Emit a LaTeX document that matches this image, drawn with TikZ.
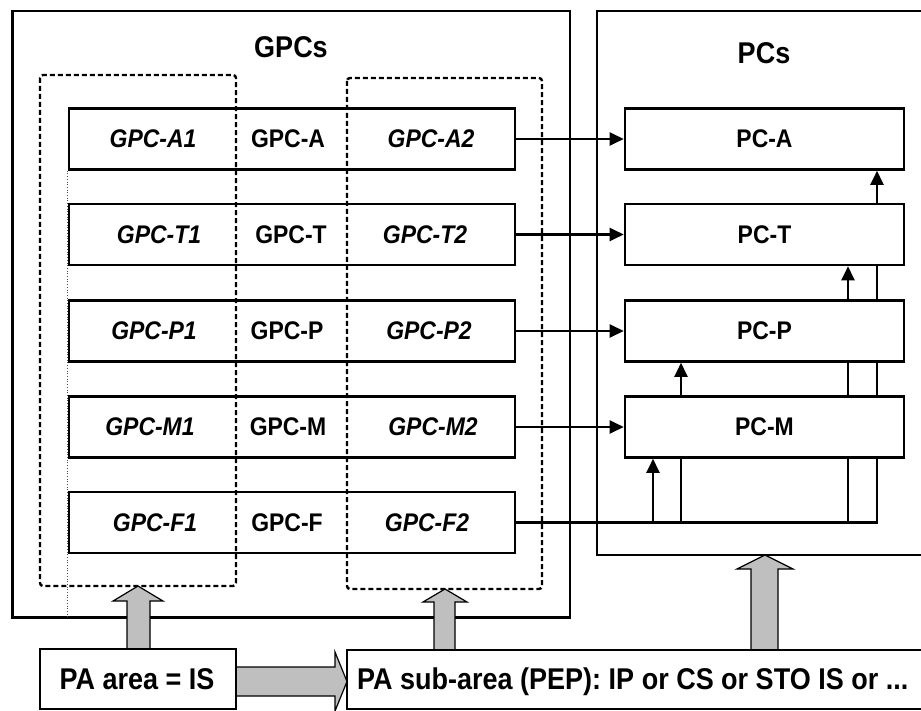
\documentclass[tikz,border=0pt]{standalone}
\usepackage{fontspec}
\setmainfont{Liberation Sans}[FakeStretch=0.9]
\usetikzlibrary{arrows.meta,calc}
\begin{document}
\begin{tikzpicture}[x=1pt,y=-1pt,
  rowbox/.style={draw,line width=2.6pt,minimum width=446pt,minimum height=61pt,inner sep=0pt},
  pcbox/.style={draw,line width=2.6pt,minimum width=279pt,minimum height=61pt,inner sep=0pt,font=\fontsize{25.5}{28}\selectfont\bfseries},
  lab/.style={font=\fontsize{25.5}{28}\selectfont\bfseries\itshape,inner sep=0pt},
  mlab/.style={font=\fontsize{25.5}{28}\selectfont\bfseries,inner sep=0pt},
  big/.style={font=\fontsize{30}{34}\selectfont\bfseries,inner sep=0pt},
  frame/.style={draw,line width=2.6pt},
  dashbox/.style={draw,line width=2.4pt,dash pattern=on 5pt off 3pt,rounded corners=3pt},
  conn/.style={line width=2.3pt},
  arr/.style={conn,-{Triangle[length=14pt,width=13pt]}},
  blk/.style={draw,line width=1.2pt,fill=black!25,line join=miter}]
\clip (0,0) rectangle (921,711);
\fill[white] (0,0) rectangle (921,711);

% frames
\draw[frame] (12.6,11) rectangle (570,617.5);
\draw[frame] (597,11) rectangle (940,555);
\node[big,anchor=base] (tG) at (291,58) {GPCs};
\node[big,anchor=base] (tP) at (764,64) {PCs};

% GPC rows
\node[rowbox] (gA) at (292,139) {};
\node[rowbox] (gT) at (292,234.5) {};
\node[rowbox] (gP) at (292,331) {};
\node[rowbox] (gM) at (292,427) {};
\node[rowbox] (gF) at (292,522.5) {};

% dotted guide
\draw[line width=0.7pt,dotted,black!70] (gA.south west) -- (gA.south west |- 0,617.5);

% dashed groups
\draw[dashbox] (40,75) rectangle (236,586);
\draw[dashbox] (347,78) rectangle (542,589);

% row labels
\node[lab] (a1) at (153,139) {GPC-A1};
\node[mlab] (a0) at (288,139) {GPC-A};
\node[lab] (a2) at (431,139) {GPC-A2};
\node[lab] (t1) at (159,234.5) {GPC-T1};
\node[mlab] (t0) at (291,234.5) {GPC-T};
\node[lab] (t2) at (425,234.5) {GPC-T2};
\node[lab] (p1) at (154,331) {GPC-P1};
\node[mlab] (p0) at (287,331) {GPC-P};
\node[lab] (p2) at (429,331) {GPC-P2};
\node[lab] (m1) at (150,427) {GPC-M1};
\node[mlab] (m0) at (288,427) {GPC-M};
\node[lab] (m2) at (433,427) {GPC-M2};
\node[lab] (f1) at (155,522.5) {GPC-F1};
\node[mlab] (f0) at (287,522.5) {GPC-F};
\node[lab] (f2) at (427,522.5) {GPC-F2};

% PC boxes
\node[pcbox] (pA) at (764.5,139) {PC-A};
\node[pcbox] (pT) at (764.5,234.5) {PC-T};
\node[pcbox] (pP) at (764.5,331) {PC-P};
\node[pcbox] (pM) at (764.5,427) {PC-M};

% connectors
\draw[arr] (gA.east) -- (pA.west);
\draw[arr] (gT.east) -- (pT.west);
\draw[arr] (gP.east) -- (pP.west);
\draw[arr] (gM.east) -- (pM.west);

\coordinate (j1) at (653,522.5);
\coordinate (j2) at (681,522.5);
\coordinate (j3) at (848,522.5);
\coordinate (j4) at (877,522.5);
\draw[conn] (gF.east) -- (j4) -- (j4 |- pM.south);
\draw[arr] (j1) -- (j1 |- pM.south);
\draw[conn] (j2) -- (j2 |- pM.south);
\draw[arr] (j2 |- pM.north) -- (j2 |- pP.south);
\draw[conn] (j3) -- (j3 |- pM.south);
\draw[conn] (j3 |- pM.north) -- (j3 |- pP.south);
\draw[arr] (j3 |- pP.north) -- (j3 |- pT.south);
\draw[conn] (j4 |- pM.north) -- (j4 |- pP.south);
\draw[conn] (j4 |- pP.north) -- (j4 |- pT.south);
\draw[arr] (j4 |- pT.north) -- (j4 |- pA.south);

% block arrows
\draw[blk] (127,649) -- (127,601) -- (113,601) -- (138,586) -- (163,601) -- (150,601) -- (150,649) -- cycle;
\draw[blk] (434,650) -- (434,602) -- (423,602) -- (445,589) -- (467,602) -- (455,602) -- (455,650) -- cycle;
\draw[blk] (751,650) -- (751,569) -- (737,569) -- (765,555) -- (793,569) -- (778,569) -- (778,650) -- cycle;
\draw[blk] (236,667) -- (335,667) -- (335,652) -- (347,681.5) -- (335,711) -- (335,696) -- (236,696) -- cycle;

% bottom boxes
\draw[frame] (40,649) rectangle (236,709);
\draw[frame] (347,650) rectangle (940,709);
\node[big,anchor=base] (pa) at (137,689) {PA area = IS};
\node[big,anchor=base west] (psa) at (357,689) {PA sub-area (PEP): IP or CS or STO IS or ...};
\end{tikzpicture}
\end{document}
